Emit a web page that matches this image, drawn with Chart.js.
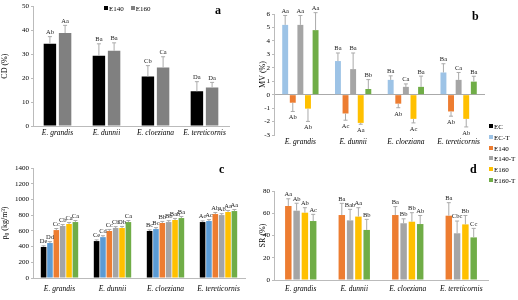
<!DOCTYPE html>
<html>
<head>
<meta charset="utf-8">
<script src="https://cdn.jsdelivr.net/npm/chart.js@4"></script>
<style>
  body { margin: 0; background: #fff; }
  #wrap { position: relative; width: 518px; height: 300px; overflow: hidden; font-family: 'Liberation Serif', serif; }
  canvas { position: absolute; }
  .tag { position: absolute; font-weight: bold; font-size: 12px; }
  .leg { position: absolute; font-size: 7px; line-height: 8px; white-space: nowrap; }
  .leg i { display: inline-block; width: 4px; height: 4px; margin-right: 1px; vertical-align: 1px; }
</style>
</head>
<body>
<div id="wrap">
  <canvas id="ga" width="235" height="145" style="left:0;top:0"></canvas>
  <canvas id="gb" width="232" height="152" style="left:258px;top:0"></canvas>
  <canvas id="gc" width="258" height="150" style="left:0;top:150px"></canvas>
  <canvas id="gd" width="232" height="150" style="left:258px;top:150px"></canvas>
  <div class="tag" style="left:215px;top:3px">a</div>
  <div class="tag" style="left:472px;top:9px">b</div>
  <div class="tag" style="left:219px;top:162px">c</div>
  <div class="tag" style="left:470px;top:162px">d</div>
  <div class="leg" style="left:104px;top:5px"><i style="background:#000"></i>E140&nbsp;&nbsp;&nbsp;&nbsp;<i style="background:#808080"></i>E160</div>
  <div class="leg" id="legRight" style="left:489px;top:123px"></div>
</div>
<script>
// datos
const especies = ['E. grandis', 'E. dunnii', 'E. cloeziana', 'E. tereticornis'];
const series = ['EC', 'EC-T', 'E140', 'E140-T', 'E160', 'E160-T'];

// a) CD (%)
const cdE140 = [34.3, 29.3, 20.7, 14.5];
const cdE160 = [38.8, 31.4, 24.4, 16.1];
const cdE140Err = [3, 5, 4.5, 4];
const cdE160Err = [3.2, 3.3, 4.5, 2.1];
const cdE140Let = ['Ab', 'Ba', 'Cb', 'Da'];
const cdE160Let = ['Aa', 'Ba', 'Ca', 'Da'];

// b) MV (%)
const mvECT = [5.19, 2.5, 1.1, 1.65];
const mvE140 = [-0.6, -1.4, -0.67, -1.25];
const mvE140T = [5.19, 1.9, 0.58, 1.1];
const mvE160 = [-1.04, -2.1, -1.8, -1.8];
const mvE160T = [4.8, 0.42, 0.58, 0.97];
const mvECTErr = [0.7, 0.6, 0.3, 0.65];
const mvE140Err = [0.65, 0.5, 0.3, 0.35];
const mvE140TErr = [0.7, 1.2, 0.22, 0.55];
const mvE160Err = [0.95, 0.1, 0.3, 0.6];
const mvE160TErr = [1.3, 0.7, 0.8, 0.4];
const mvECTLet = ['Aa', 'Ba', 'Ba', 'Ba'];
const mvE140Let = ['Ab', 'Ac', 'Ab', 'Ab'];
const mvE140TLet = ['Aa', 'Ba', 'Ca', 'Ca'];
const mvE160Let = ['Ab', 'Aa', 'Ac', 'Ab'];
const mvE160TLet = ['Aa', 'Bb', 'Ba', 'Ba'];

// c) densidad (kg/m3)
const rhoEC = [395, 470, 598, 712];
const rhoECT = [445, 520, 623, 725];
const rhoE140 = [610, 598, 700, 814];
const rhoE140T = [662, 636, 712, 801];
const rhoE160 = [687, 636, 738, 840];
const rhoE160T = [712, 712, 763, 852];
const rhoErr = [15, 18, 20, 18, 20, 20];
const rhoECLet = ['De', 'Ce', 'Bc', 'Ac'];
const rhoECTLet = ['Dd', 'Cd', 'Bc', 'Ac'];
const rhoE140Let = ['Cc', 'Cc', 'Bb', 'Ab'];
const rhoE140TLet = ['Cb', 'Cb', 'Bb', 'Ab'];
const rhoE160Let = ['Ca', 'Db', 'Bab', 'Aa'];
const rhoE160TLet = ['Ca', 'Ca', 'Ba', 'Aa'];

// d) SR (%)
const srE140 = [66.5, 58.4, 58.4, 57.8];
const srE140T = [62.3, 53.6, 51, 42];
const srE160 = [60.5, 57, 52.4, 50];
const srE160T = [53, 45, 50.3, 38.3];
const srE140Err = [6.5, 10.5, 7.6, 11.7];
const srE140TErr = [6.7, 9.9, 4, 11];
const srE160Err = [4.5, 8, 8.1, 8];
const srE160TErr = [6, 9.5, 7.7, 8.1];
const srE140Let = ['Aa', 'Ba', 'Ba', 'Ba'];
const srE140TLet = ['Ab', 'Bab', 'Bb', 'Cbc'];
const srE160Let = ['Ab', 'Aa', 'Bb', 'Bb'];
const srE160TLet = ['Ac', 'Bb', 'Ab', 'Cc'];

const colores = {
  'EC': '#000000', 'EC-T': '#5B9BD5', 'E140': '#ED7D31',
  'E140-T': '#A5A5A5', 'E160': '#FFC000', 'E160-T': '#70AD47'
};
const azulClaro = '#9DC3E6';
const fuente = 'Liberation Serif';

// leyenda compartida
document.getElementById('legRight').innerHTML = series.map(s =>
  '<div style="height:10.8px"><i style="background:' + (s === 'EC-T' ? azulClaro : colores[s]) + '"></i>' + s + '</div>'
).join('');

// barras de error + letras
const barNotes = {
  id: 'barNotes',
  afterDatasetsDraw(chart) {
    const ctx = chart.ctx, ys = chart.scales.y;
    ctx.save();
    ctx.font = '6.5px "' + fuente + '"';
    ctx.textAlign = 'center';
    ctx.fillStyle = '#222';
    chart.data.datasets.forEach((ds, i) => {
      const meta = chart.getDatasetMeta(i);
      meta.data.forEach((bar, j) => {
        const v = ds.data[j], dir = v < 0 ? -1 : 1;
        const y0 = ys.getPixelForValue(v), y1 = ys.getPixelForValue(v + dir * ds.err[j]);
        ctx.strokeStyle = '#aaa';
        ctx.lineWidth = 1;
        ctx.beginPath();
        ctx.moveTo(bar.x, y0); ctx.lineTo(bar.x, y1);
        ctx.moveTo(bar.x - 2, y1); ctx.lineTo(bar.x + 2, y1);
        ctx.stroke();
        if (dir > 0) { ctx.textBaseline = 'bottom'; ctx.fillText(ds.notes[j], bar.x, y1 - 1); }
        else { ctx.textBaseline = 'top'; ctx.fillText(ds.notes[j], bar.x, y1 + 3); }
      });
    });
    ctx.restore();
  }
};

function ds(label, data, err, notes, color) {
  return { label, data, err, notes, backgroundColor: color };
}

function grafico(id, datasets, o) {
  new Chart(document.getElementById(id), {
    type: 'bar',
    data: { labels: especies, datasets },
    options: {
      responsive: false,
      animation: false,
      categoryPercentage: o.cat,
      barPercentage: o.bar,
      layout: { padding: { top: o.top, right: o.right, left: 0, bottom: 0 } },
      plugins: { legend: { display: false }, tooltip: { enabled: false } },
      scales: {
        x: {
          grid: { display: false, drawTicks: false },
          border: { display: !o.zeroLine, color: '#bbb' },
          ticks: { color: '#000', maxRotation: 0, autoSkip: false, padding: o.xpad || 5, font: { family: fuente, style: 'italic', size: 7.5 } },
          afterFit(s) { s.height = o.xh; }
        },
        y: {
          min: o.min, max: o.max,
          ticks: { stepSize: o.step, color: '#000', padding: 2, font: { family: fuente, size: 7 }, callback: v => String(v) },
          grid: {
            drawOnChartArea: !!o.zeroLine, tickLength: 2, tickColor: '#bbb',
            color: c => (c.tick && c.tick.value === 0) ? '#aaa' : 'rgba(0,0,0,0)'
          },
          border: { color: '#bbb' },
          title: { display: true, text: o.title, color: '#000', padding: 0, font: { family: fuente, size: 8 } },
          afterFit(s) { s.width = o.yw; }
        }
      }
    },
    plugins: [barNotes]
  });
}

grafico('ga', [
  ds('E140', cdE140, cdE140Err, cdE140Let, '#000000'),
  ds('E160', cdE160, cdE160Err, cdE160Let, '#808080')
], { min: 0, max: 50, step: 10, title: 'CD (%)', yw: 33, xh: 19, top: 5, right: 6, cat: 0.62, bar: 0.82, xpad: 3 });

grafico('gb', [
  ds('EC-T', mvECT, mvECTErr, mvECTLet, azulClaro),
  ds('E140', mvE140, mvE140Err, mvE140Let, colores['E140']),
  ds('E140-T', mvE140T, mvE140TErr, mvE140TLet, colores['E140-T']),
  ds('E160', mvE160, mvE160Err, mvE160Let, colores['E160']),
  ds('E160-T', mvE160T, mvE160TErr, mvE160TLet, colores['E160-T'])
], { min: -3, max: 6, step: 1, title: 'MV (%)', yw: 16, xh: 17, top: 14, right: 5, cat: 0.72, bar: 0.78, zeroLine: true, xpad: 3 });

grafico('gc', [
  ds('EC', rhoEC, rhoEC.map(() => rhoErr[0]), rhoECLet, colores['EC']),
  ds('EC-T', rhoECT, rhoECT.map(() => rhoErr[1]), rhoECTLet, colores['EC-T']),
  ds('E140', rhoE140, rhoE140.map(() => rhoErr[2]), rhoE140Let, colores['E140']),
  ds('E140-T', rhoE140T, rhoE140T.map(() => rhoErr[3]), rhoE140TLet, colores['E140-T']),
  ds('E160', rhoE160, rhoE160.map(() => rhoErr[4]), rhoE160Let, colores['E160']),
  ds('E160-T', rhoE160T, rhoE160T.map(() => rhoErr[5]), rhoE160TLet, colores['E160-T'])
], { min: 0, max: 1400, step: 200, title: 'ρ₀ (kg/m³)', yw: 33, xh: 22, top: 18, right: 13, cat: 0.72, bar: 0.88, xpad: 7 });

grafico('gd', [
  ds('E140', srE140, srE140Err, srE140Let, colores['E140']),
  ds('E140-T', srE140T, srE140TErr, srE140TLet, colores['E140-T']),
  ds('E160', srE160, srE160Err, srE160Let, colores['E160']),
  ds('E160-T', srE160T, srE160TErr, srE160TLet, colores['E160-T'])
], { min: 0, max: 80, step: 10, title: 'SR (%)', yw: 16, xh: 20, top: 41, right: 2, cat: 0.62, bar: 0.78 });
</script>
</body>
</html>
